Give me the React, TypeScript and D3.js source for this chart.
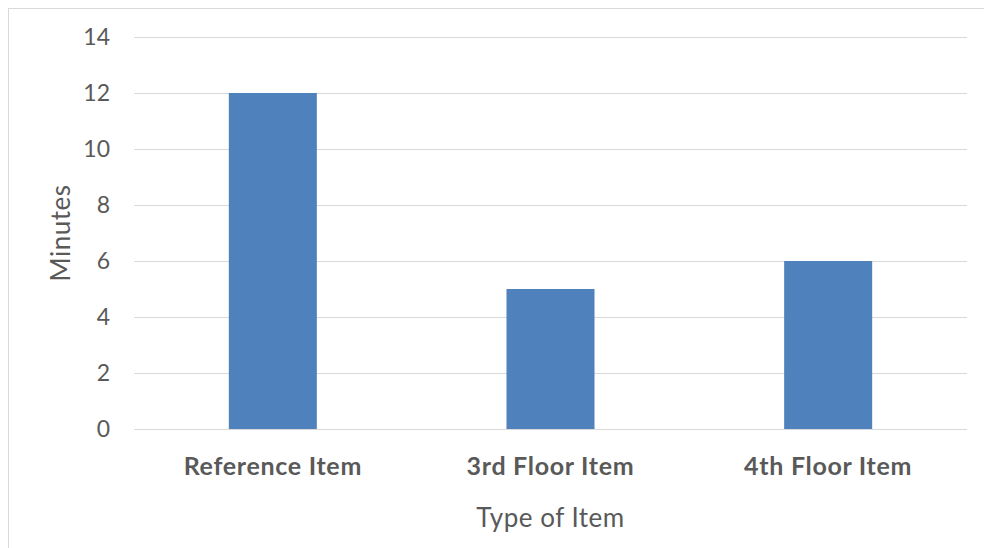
import React from "react";
import * as d3 from "d3";

const categories = ["Reference Item", "3rd Floor Item", "4th Floor Item"];
const values = [12, 5, 6];
const yTicks = [0, 2, 4, 6, 8, 10, 12, 14];

const W = 984;
const H = 548;
const left = 134;
const right = 967;
const top = 37;
const bottom = 429;

export default function App() {
  const x = d3.scaleBand<string>().domain(categories).range([left, right]).paddingInner(0.683).paddingOuter(0.3415);
  const y = d3.scaleLinear().domain([0, 14]).range([bottom, top]);
  const font = "Lato, 'Open Sans', sans-serif";
  return (
    <svg width={W} height={H} style={{ position: "absolute", left: 0, top: 0 }}>
      <rect x={8.5} y={8.5} width={W} height={H} fill="#fff" stroke="#D9D9D9" />
      {yTicks.map((t) => (
        <g key={t}>
          <line x1={left} x2={right} y1={Math.round(y(t)) + 0.5} y2={Math.round(y(t)) + 0.5} stroke="#D9D9D9" strokeWidth={1.2} />
          <text x={110} y={y(t)} dy="0.35em" textAnchor="end" fontFamily={font} fontSize={23} fill="#595959">
            {t}
          </text>
        </g>
      ))}
      {categories.map((c, i) => (
        <rect key={c} x={x(c)} y={y(values[i])} width={x.bandwidth()} height={y(0) - y(values[i])} fill="#4F81BD" />
      ))}
      {categories.map((c) => (
        <text key={c} x={(x(c) as number) + x.bandwidth() / 2} y={466} dy="0.35em" textAnchor="middle" fontFamily={font} fontWeight="bold" fontSize={25} letterSpacing={0.7} fill="#595959">
          {c}
        </text>
      ))}
      <text transform={`translate(61,${(top + bottom) / 2}) rotate(-90)`} dy="0.35em" textAnchor="middle" fontFamily={font} fontSize={26} letterSpacing={0.5} fill="#595959">
        Minutes
      </text>
      <text x={(left + right) / 2} y={518} dy="0.35em" textAnchor="middle" fontFamily={font} fontSize={26} letterSpacing={0.5} fill="#595959">
        Type of Item
      </text>
    </svg>
  );
}
